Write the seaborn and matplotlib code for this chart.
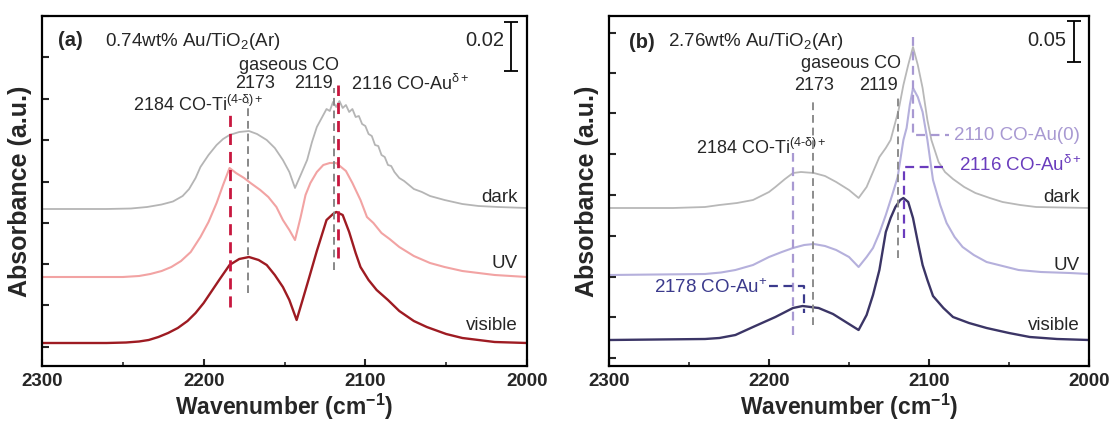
import matplotlib
matplotlib.use("Agg")
import matplotlib.pyplot as plt
import seaborn as sns
import pandas as pd
from matplotlib.ticker import FixedLocator, NullFormatter

# ---------------- data (a.u.) ----------------
# panel (a) 0.74wt% Au/TiO2(Ar)
wn_dark_a = [2300, 2260, 2245, 2235, 2226, 2219, 2213, 2209, 2205, 2202, 2197, 2192, 2188, 2184,
             2178, 2172, 2167, 2161, 2156, 2151, 2147, 2143.5, 2140, 2136, 2133, 2130, 2127, 2124,
             2122, 2120, 2118, 2116, 2114, 2112, 2110, 2108, 2106, 2104, 2102, 2100, 2098, 2096,
             2094, 2092, 2090, 2088, 2086, 2084, 2082, 2079, 2076, 2070, 2065, 2060, 2051, 2040,
             2030, 2018, 2000]
dark_a = [157, 157, 157.5, 159, 161.5, 164.5, 170, 177, 188, 199, 211, 221, 227, 231,
          234, 235, 232, 226, 218, 206, 194, 178, 191, 206, 224, 239, 248, 257,
          255, 264, 259, 265, 258, 261, 254, 257, 249, 250, 242, 240, 232, 230,
          221, 220, 211, 209, 201, 200, 194, 188, 185, 177, 174, 170, 166, 162,
          160, 159, 158]

wn_uv_a = [2300, 2250, 2240, 2233, 2226, 2220, 2214, 2208, 2202, 2197, 2192, 2188, 2184, 2180,
           2175, 2171, 2165, 2160, 2155, 2151, 2147, 2143.5, 2140, 2137, 2134, 2130, 2126, 2122,
           2118, 2112, 2108, 2103, 2099, 2095, 2090, 2085, 2079, 2070, 2060, 2051, 2040, 2020,
           2000]
uv_a = [89, 89, 90, 92, 95, 99, 105, 114, 129, 144, 163, 181, 198, 193,
        188, 183, 176, 169, 159, 146, 136, 126, 149, 171, 183, 194, 201, 203,
        203, 195, 183, 166, 149, 143, 133, 127, 119, 110, 103, 99, 95, 91,
        89]

wn_vis_a = [2300, 2260, 2248, 2240, 2234, 2228, 2222, 2216, 2210, 2205, 2200, 2195, 2190, 2184,
            2178, 2172, 2166, 2161, 2156, 2151, 2147, 2142.5, 2139, 2135, 2130, 2124, 2120, 2118,
            2114, 2110, 2106, 2103, 2098, 2093, 2086, 2079, 2070, 2062, 2050, 2040, 2020, 2000]
vis_a = [23, 23, 23.5, 24.5, 26, 29, 33, 38, 45, 53, 63, 75, 87, 101,
         107, 109, 106, 101, 91, 79, 66, 46, 65, 87, 115, 146, 152, 154,
         151, 134, 113, 99, 86, 76, 66, 55, 45, 39, 32, 28, 24, 23]

# guide lines (a): wavenumber, bottom, top
guide_a_wn = [2184, 2116.8, 2172.5, 2119.4]
guide_a_lo = [59, 108, 73, 96]
guide_a_hi = [251, 281, 264, 278]
guide_a_kind = ["Ti", "Au", "gas", "gas"]

# panel (b) 2.76wt% Au/TiO2(Ar)
wn_dark_b = [2300, 2260, 2240, 2231, 2220, 2210, 2200, 2196, 2190, 2185, 2180, 2172, 2165, 2158,
             2150, 2144, 2139, 2135, 2131, 2127, 2124, 2121, 2119, 2116, 2113, 2110, 2107, 2104,
             2101, 2098.5, 2094, 2090, 2085, 2078, 2071, 2062, 2054, 2043, 2033, 2000]
dark_b = [158, 158, 159, 161, 163, 166, 174, 179, 187, 193, 194, 193, 190, 184,
          176, 168, 179, 194, 209, 218, 226, 244, 256, 281, 301, 319, 301, 278,
          246, 226, 204, 194, 187, 179, 173, 168, 164, 161, 159, 158]

wn_uv_b = [2300, 2240, 2230, 2221, 2210, 2200, 2192, 2185, 2178, 2172, 2165, 2158, 2150, 2144,
           2139, 2135, 2131, 2127, 2123, 2119.6, 2116, 2114, 2112, 2110, 2107, 2104, 2101, 2097.5,
           2093, 2089, 2084, 2079, 2072, 2064, 2054, 2044, 2030, 2012, 2000]
uv_b = [91, 92, 93.5, 96, 101, 109, 114, 118, 121, 122, 120, 116, 109, 99,
        109, 118, 133, 151, 171, 189, 226, 238, 261, 278, 269, 254, 226, 186,
        161, 143, 129, 119, 111, 104, 100, 96, 94, 93, 92]

wn_vis_b = [2300, 2240, 2231, 2221, 2210, 2196, 2185, 2179, 2169, 2160, 2154, 2148, 2144, 2139,
            2135, 2131, 2127, 2124, 2121, 2118, 2116, 2113, 2110, 2107, 2104, 2101, 2097.5, 2091,
            2085, 2075, 2064, 2050, 2037, 2020, 2000]
vis_b = [26, 27, 28, 31, 39, 49, 58, 60, 58, 52, 46, 40, 36, 51,
         71, 96, 134, 148, 159, 166, 168, 164, 148, 124, 101, 86, 70, 58,
         49, 43, 38, 33, 29, 27, 26]

guide_b_wn = [2185, 2172.5, 2119.4]
guide_b_lo = [31, 41, 108]
guide_b_hi = [213, 266, 271]
guide_b_kind = ["Ti", "gas", "gas"]

# labelled leader lines (b): wavenumber of peak, elbow level, other end, end of leader
au0_wn, au0_lo, au0_hi, au0_end = 2110, 231, 329, 2087.5
audp_wn, audp_lo, audp_hi, audp_end = 2115.6, 128, 199, 2088
aup_wn, aup_lo, aup_hi, aup_end = 2178, 53, 80, 2200

bar_a_len = 49     # 0.02 absorbance in a.u.
bar_b_len = 41     # 0.05 absorbance in a.u.

xticks_major = [2300, 2200, 2100, 2000]
xticks_minor = [2250, 2150, 2050]
yticks_a = [19, 61, 102, 143, 184, 226, 267, 309, 350]
yticks_b = [8, 49, 89, 130, 171, 212, 253, 293, 333]

# ---------------- style ----------------
sns.set_theme(style="white")
plt.rcParams["font.family"] = ["Liberation Sans", "DejaVu Sans"]
plt.rcParams["mathtext.fontset"] = "custom"
plt.rcParams["mathtext.rm"] = "Liberation Sans"
plt.rcParams["mathtext.it"] = "Liberation Sans:italic"
plt.rcParams["mathtext.bf"] = "Liberation Sans:bold"

fig = plt.figure(figsize=(11.1, 4.24), dpi=100)
axA = fig.add_axes([42 / 1110, 58 / 424, 485 / 1110, 350 / 424])
axB = fig.add_axes([609 / 1110, 58 / 424, 480 / 1110, 350 / 424])

FS = 13.5

def draw_curve(ax, wn, val, color, lw):
    df = pd.DataFrame({"wn": wn, "A": val})
    sns.lineplot(data=df, x="wn", y="A", ax=ax, color=color, lw=lw, sort=False,
                 estimator=None, legend=False)

def style_axes(ax, yticks, labelpad):
    ax.set_xlim(2300, 2000)
    ax.set_ylim(0, 350)
    for s in ax.spines.values():
        s.set_visible(True)
        s.set_linewidth(1.6)
        s.set_color("black")
    ax.xaxis.set_major_locator(FixedLocator(xticks_major))
    ax.xaxis.set_minor_locator(FixedLocator(xticks_minor))
    ax.yaxis.set_major_locator(FixedLocator(yticks))
    ax.yaxis.set_major_formatter(NullFormatter())
    ax.tick_params(axis="both", which="major", direction="in", length=5, width=1.5,
                   bottom=True, left=True, top=False, right=False, pad=5)
    ax.tick_params(axis="x", which="minor", direction="in", length=3, width=1.2,
                   bottom=True, top=False)
    ax.set_xticklabels([str(t) for t in xticks_major], fontsize=13.5, fontweight="bold")
    ax.set_xlabel(r"Wavenumber (cm$^{\mathbf{-1}}$)", fontsize=16.5, fontweight="bold",
                  labelpad=1)
    ax.set_ylabel("Absorbance (a.u.)", fontsize=18, fontweight="bold", labelpad=labelpad)

# ---------- panel (a) ----------
ax = axA
draw_curve(ax, wn_dark_a, dark_a, "#b5b5b5", 1.3)
draw_curve(ax, wn_uv_a, uv_a, "#f2a3a3", 1.5)
draw_curve(ax, wn_vis_a, vis_a, "#9e1b22", 1.7)
kind_style_a = {"Ti": ("#c8173f", 2.0), "Au": ("#c8173f", 2.0), "gas": ("#888888", 1.4)}
for w, lo, hi, k in zip(guide_a_wn, guide_a_lo, guide_a_hi, guide_a_kind):
    c, lw = kind_style_a[k]
    ax.plot([w, w], [lo, hi], color=c, lw=lw, ls=(0, (4, 2.5)), zorder=5)
style_axes(ax, yticks_a, 2)

ax.text(2290, 325, "(a)", fontsize=14.5, fontweight="bold", va="center", ha="left")
ax.text(2261, 325, r"0.74wt% Au/TiO$_2$(Ar)", fontsize=FS, va="center", ha="left")
ax.text(2014, 326, "0.02", fontsize=14.5, va="center", ha="right")
ax.errorbar([2010], [344 - bar_a_len / 2], yerr=[bar_a_len / 2], color="black",
            capsize=5, elinewidth=1.3, capthick=1.3, fmt="none")
ax.text(2147, 301, "gaseous CO", fontsize=13, va="center", ha="center")
ax.text(2168, 282, "2173", fontsize=13, va="center", ha="center")
ax.text(2132, 282, "2119", fontsize=13, va="center", ha="center")
ax.text(2109, 282, r"2116 CO-Au$^{\mathrm{\delta+}}$", fontsize=13, va="center", ha="left")
ax.text(2163, 261, r"2184 CO-Ti$^{\mathrm{(4\text{-}\delta)+}}$", fontsize=13, va="center", ha="right")
ax.text(2006, 168, "dark", fontsize=FS, va="center", ha="right")
ax.text(2006, 102, "UV", fontsize=FS, va="center", ha="right")
ax.text(2006, 40, "visible", fontsize=FS, va="center", ha="right")

# ---------- panel (b) ----------
ax = axB
draw_curve(ax, wn_dark_b, dark_b, "#b8b8b8", 1.3)
draw_curve(ax, wn_uv_b, uv_b, "#b5b0dc", 1.5)
draw_curve(ax, wn_vis_b, vis_b, "#3b3566", 1.7)
kind_style_b = {"Ti": ("#a899d2", 1.6), "gas": ("#8c8c8c", 1.4)}
for w, lo, hi, k in zip(guide_b_wn, guide_b_lo, guide_b_hi, guide_b_kind):
    c, lw = kind_style_b[k]
    ax.plot([w, w], [lo, hi], color=c, lw=lw, ls=(0, (4, 2.5)), zorder=5)
dash = (0, (4, 2.5))
ax.plot([au0_wn, au0_wn, au0_end], [au0_hi, au0_lo, au0_lo], color="#a899d2", lw=1.6, ls=dash, zorder=5)
ax.plot([audp_wn, audp_wn, audp_end], [audp_lo, audp_hi, audp_hi], color="#6a3cbd", lw=1.6, ls=dash, zorder=5)
ax.plot([aup_end, aup_wn, aup_wn], [aup_hi, aup_hi, aup_lo], color="#3b3a8c", lw=1.6, ls=dash, zorder=5)
style_axes(ax, yticks_b, 2)

ax.text(2287.5, 324, "(b)", fontsize=14.5, fontweight="bold", va="center", ha="left")
ax.text(2263, 324, r"2.76wt% Au/TiO$_2$(Ar)", fontsize=FS, va="center", ha="left")
ax.text(2014.5, 326, "0.05", fontsize=14.5, va="center", ha="right")
ax.errorbar([2009.4], [345 - bar_b_len / 2], yerr=[bar_b_len / 2], color="black",
            capsize=5, elinewidth=1.3, capthick=1.3, fmt="none")
ax.text(2117.5, 303, "gaseous CO", fontsize=13, va="center", ha="right")
ax.text(2172, 280, "2173", fontsize=13, va="center", ha="center")
ax.text(2119.4, 280, "2119", fontsize=13, va="center", ha="right")
ax.text(2245.6, 218, r"2184 CO-Ti$^{\mathrm{(4\text{-}\delta)+}}$", fontsize=13, va="center", ha="left")
ax.text(2084.4, 231, "2110 CO-Au(0)", fontsize=FS, va="center", ha="left", color="#a899d2")
ax.text(2081, 201, r"2116 CO-Au$^{\mathrm{\delta+}}$", fontsize=FS, va="center", ha="left", color="#6a3cbd")
ax.text(2201, 78, r"2178 CO-Au$^{+}$", fontsize=FS, va="center", ha="right", color="#3b3a8c")
ax.text(2006, 169, "dark", fontsize=FS, va="center", ha="right")
ax.text(2006, 101, "UV", fontsize=FS, va="center", ha="right")
ax.text(2006, 40, "visible", fontsize=FS, va="center", ha="right")

fig.savefig("out.png", dpi=100)
